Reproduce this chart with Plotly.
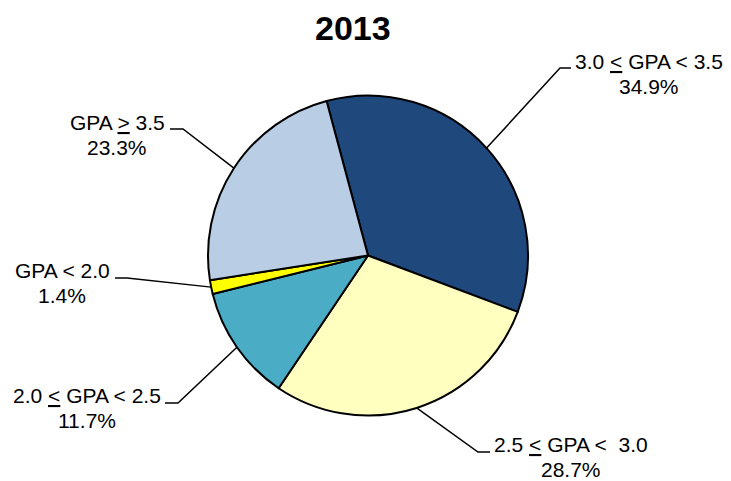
import math
import plotly.graph_objects as go

# ---- data ----
title_text = "2013"
categories = ["3.0 ≤ GPA < 3.5", "2.5 ≤ GPA < 3.0", "2.0 ≤ GPA < 2.5", "GPA < 2.0", "GPA ≥ 3.5"]
label_texts = [
    "3.0 <u>&lt;</u> GPA &lt; 3.5",
    "2.5 <u>&lt;</u> GPA &lt;  3.0",
    "2.0 <u>&lt;</u> GPA &lt; 2.5",
    "GPA &lt; 2.0",
    "GPA <u>&gt;</u> 3.5",
]
values = [34.9, 28.7, 11.7, 1.4, 23.3]
colors = ["#1F497D", "#FFFFC0", "#4BACC6", "#FFFF00", "#B9CDE5"]

# ---- layout constants (pixels) ----
W, H = 731, 481
CX, CY, R = 368, 255.5, 160
ROT = -15
FONT = "Liberation Sans, Arial, sans-serif"
LINE_GAP = 25.5

# label text centres and leader elbows (elbow, end of horizontal tick)
label_pos = [(649, 74), (571, 457), (87, 408), (62, 283), (117, 135)]
elbows = [((560, 68), (571, 68)), ((478, 452), (490, 452)), ((178, 403), (165, 403)),
          ((127, 278), (115, 278)), ((183, 129), (170, 129))]


def px(x, y):
    return x / W, 1 - y / H


fig = go.Figure()
fig.add_trace(go.Pie(
    labels=categories, values=values, sort=False, direction="clockwise",
    rotation=ROT, textinfo="none", hoverinfo="label+percent",
    marker=dict(colors=colors, line=dict(color="black", width=2)),
    domain=dict(x=[(CX - R) / W, (CX + R) / W], y=[1 - (CY + R) / H, 1 - (CY - R) / H]),
    showlegend=False,
))

total = sum(values)
cum = 0.0
shapes, annotations = [], []
for i, v in enumerate(values):
    mid = math.radians(ROT + 360 * (cum + v / 2) / total)
    cum += v
    ex, ey = CX + R * math.sin(mid), CY - R * math.cos(mid)
    (e1x, e1y), (e2x, e2y) = elbows[i]
    p0, p1, p2 = px(ex, ey), px(e1x, e1y), px(e2x, e2y)
    shapes.append(dict(type="path", xref="paper", yref="paper",
                       path=f"M {p0[0]} {p0[1]} L {p1[0]} {p1[1]} L {p2[0]} {p2[1]}",
                       line=dict(color="black", width=1.5)))
    pct = f"{v / total * 100:.1f}%"
    cx, cy = label_pos[i]
    for txt, yy in ((label_texts[i], cy - LINE_GAP / 2), (pct, cy + LINE_GAP / 2)):
        lx, ly = px(cx, yy)
        annotations.append(dict(text=txt, x=lx, y=ly, xref="paper", yref="paper",
                                xanchor="center", yanchor="middle", showarrow=False,
                                font=dict(family=FONT, size=21, color="black")))

tx, ty = px(352.5, 28)
annotations.append(dict(text=f"<b>{title_text}</b>", x=tx, y=ty, xref="paper", yref="paper",
                        xanchor="center", yanchor="middle", showarrow=False,
                        font=dict(family=FONT, size=34, color="black")))

fig.update_layout(width=W, height=H, autosize=False, margin=dict(l=0, r=0, t=0, b=0),
                  paper_bgcolor="white", plot_bgcolor="white",
                  shapes=shapes, annotations=annotations)
fig.write_html("out.html", config={"displayModeBar": False},
               post_script="document.body.style.margin='0';")
